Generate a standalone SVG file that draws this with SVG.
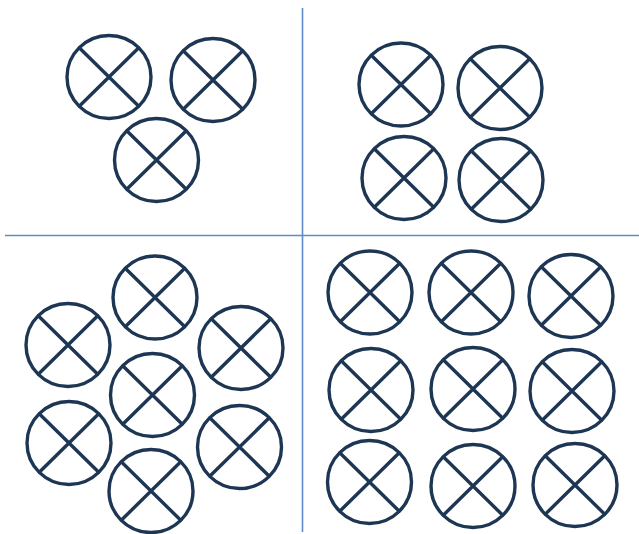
<svg xmlns="http://www.w3.org/2000/svg" xmlns:xlink="http://www.w3.org/1999/xlink" width="639" height="534" viewBox="0 0 639 534">
<style>
.c{fill:none;stroke:#1d3654;stroke-width:3.4;stroke-linecap:round}
.d{stroke:#5f8bc8;stroke-width:1.6;fill:none}
</style>
<defs>
<g id="cx">
<ellipse class="c" cx="0" cy="0" rx="42" ry="41.5"/>
<path class="c" d="M-29.5,-29 L29.5,29 M29.5,-29 L-29.5,29"/>
</g>
</defs>
<rect width="639" height="534" fill="#ffffff"/>
<g id="dividers">
<line class="d" x1="302.5" y1="8" x2="302.5" y2="532"/>
<line class="d" x1="5" y1="235.5" x2="639" y2="235.5"/>
</g>
<g id="q1">
<g id="q1a"><use xlink:href="#cx" x="109" y="77"/></g>
<g id="q1b"><use xlink:href="#cx" x="213" y="80"/></g>
<g id="q1c"><use xlink:href="#cx" x="156.5" y="160"/></g>
</g>
<g id="q2">
<g id="q2a"><use xlink:href="#cx" x="401" y="84.5"/></g>
<g id="q2b"><use xlink:href="#cx" x="500" y="88"/></g>
<g id="q2c"><use xlink:href="#cx" x="404" y="178"/></g>
<g id="q2d"><use xlink:href="#cx" x="501" y="180"/></g>
</g>
<g id="q3">
<g id="q3a"><use xlink:href="#cx" x="155" y="297.5"/></g>
<g id="q3b"><use xlink:href="#cx" x="68" y="345"/></g>
<g id="q3c"><use xlink:href="#cx" x="241" y="348"/></g>
<g id="q3d"><use xlink:href="#cx" x="152.5" y="395"/></g>
<g id="q3e"><use xlink:href="#cx" x="69" y="443"/></g>
<g id="q3f"><use xlink:href="#cx" x="239.5" y="447"/></g>
<g id="q3g"><use xlink:href="#cx" x="151" y="491"/></g>
</g>
<g id="q4">
<g id="q4a"><use xlink:href="#cx" x="370" y="292.5"/></g>
<g id="q4b"><use xlink:href="#cx" x="471" y="292.5"/></g>
<g id="q4c"><use xlink:href="#cx" x="571" y="296"/></g>
<g id="q4d"><use xlink:href="#cx" x="371" y="390"/></g>
<g id="q4e"><use xlink:href="#cx" x="473" y="389"/></g>
<g id="q4f"><use xlink:href="#cx" x="572" y="391"/></g>
<g id="q4g"><use xlink:href="#cx" x="369.5" y="482"/></g>
<g id="q4h"><use xlink:href="#cx" x="473" y="486"/></g>
<g id="q4i"><use xlink:href="#cx" x="575" y="485"/></g>
</g>
</svg>
